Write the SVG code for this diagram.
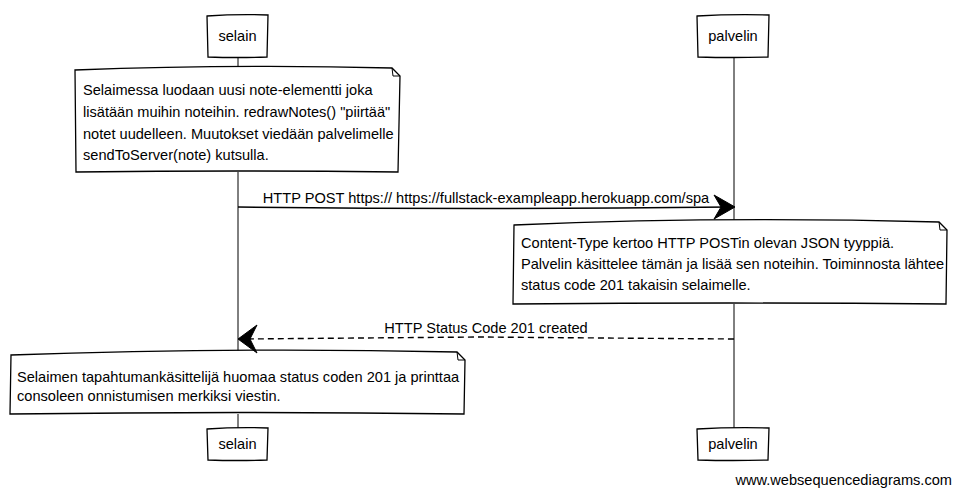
<svg xmlns="http://www.w3.org/2000/svg" width="960" height="495" viewBox="0 0 960 495">
<style>
.box{fill:#fff;stroke:#000;stroke-width:1.3}
.life{stroke:#000;stroke-width:1;fill:none}
.t{font-family:"Liberation Sans",Arial,sans-serif;font-size:14.6px;fill:#000}
.msg{stroke:#000;stroke-width:1.4;fill:none}
.head{fill:#000;stroke:#000;stroke-width:1}
</style>
<rect width="960" height="495" fill="#fff"/>
<g id="lifelines" class="life">
<path d="M238 57 V68 M238 172 V352 M238 414 V428"/>
<path d="M734 57 V222 M734 304 V428"/>
</g>
<g id="selain-top">
<path class="box" d="M207 16 Q237 14 268 15 L267 57 Q237 58 208 57 Z"/>
<text class="t" x="237.5" y="41" text-anchor="middle">selain</text>
</g>
<g id="palvelin-top">
<path class="box" d="M697 16 Q733 14 769 15 L768 57 Q733 58 698 57 Z"/>
<text class="t" x="733" y="41" text-anchor="middle">palvelin</text>
</g>
<g id="selain-bottom">
<path class="box" d="M207 429 Q237 427 268 428 L267 460 Q237 461 208 460 Z"/>
<text class="t" x="237.5" y="449" text-anchor="middle">selain</text>
</g>
<g id="palvelin-bottom">
<path class="box" d="M697 429 Q733 427 769 428 L768 460 Q733 461 698 460 Z"/>
<text class="t" x="733" y="449" text-anchor="middle">palvelin</text>
</g>
<g id="note1">
<path class="box" d="M75 70 Q240 64 392 68 L400 76 L398 172 Q240 170 76 172 Z"/>
<path class="life" d="M392 68 L393 76 L400 76"/>
<text class="t" x="83" y="95">Selaimessa luodaan uusi note-elementti joka</text>
<text class="t" x="83" y="117">lisätään muihin noteihin. redrawNotes() "piirtää"</text>
<text class="t" x="83" y="139">notet uudelleen. Muutokset viedään palvelimelle</text>
<text class="t" x="83" y="160">sendToServer(note) kutsulla.</text>
</g>
<g id="note2">
<path class="box" d="M514 225 Q720 216 939 222 L947 230 L946 304 Q730 302 513 304 Z"/>
<path class="life" d="M939 222 L940 230 L947 230"/>
<text class="t" x="521" y="248">Content-Type kertoo HTTP POSTin olevan JSON tyyppiä.</text>
<text class="t" x="521" y="269">Palvelin käsittelee tämän ja lisää sen noteihin. Toiminnosta lähtee</text>
<text class="t" x="521" y="290">status code 201 takaisin selaimelle.</text>
</g>
<g id="note3">
<path class="box" d="M11 355 Q230 347 457 352 L465 360 L464 414 Q240 411 10 414 Z"/>
<path class="life" d="M457 352 L458 360 L465 360"/>
<text class="t" x="17" y="382">Selaimen tapahtumankäsittelijä huomaa status coden 201 ja printtaa</text>
<text class="t" x="17" y="401">consoleen onnistumisen merkiksi viestin.</text>
</g>
<g id="connectors">
<path class="msg" d="M238 207 Q480 210 730 207"/>
<path class="head" d="M735 207 L714 195 L721 207 L714 219 Z"/>
<text class="t" x="486" y="203" text-anchor="middle">HTTP POST https:// https://fullstack-exampleapp.herokuapp.com/spa</text>
<path class="msg" stroke-dasharray="6,4" d="M734 339 Q600 338 480 337 Q360 338 244 339"/>
<path class="head" d="M238 339 L257 325 L250 339 L257 353 Z"/>
<text class="t" x="486" y="333" text-anchor="middle">HTTP Status Code 201 created</text>
</g>
<text class="t" x="952" y="485" text-anchor="end">www.websequencediagrams.com</text>
</svg>
